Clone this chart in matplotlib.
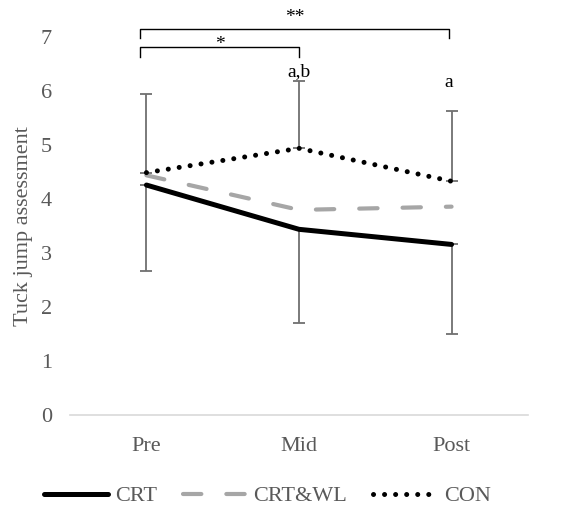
import matplotlib
matplotlib.use("Agg")
import matplotlib.pyplot as plt

# Tuck jump assessment scores per group and time point
timepoints = ["Pre", "Mid", "Post"]
crt = [4.26, 3.44, 3.16]
crt_wl = [4.44, 3.80, 3.86]
con = [4.49, 4.94, 4.33]

# one-sided SD bars: lower on CRT, upper on CON
crt_sd = [1.59, 1.73, 1.66]
con_sd = [1.45, 1.25, 1.30]

plt.rcParams["font.family"] = ["Liberation Serif", "DejaVu Serif"]
grey_txt = "#595959"

fig = plt.figure(figsize=(5.75, 5.15), dpi=100)
ax = fig.add_axes([0.122, 0.194, 0.796, 0.734])

x = list(range(len(timepoints)))

ax.errorbar(x, crt, yerr=[crt_sd, [0, 0, 0]], fmt="none", ecolor="#707070",
            elinewidth=1.3, capsize=4.5, capthick=1.3, zorder=1)
ax.errorbar(x, con, yerr=[[0, 0, 0], con_sd], fmt="none", ecolor="#707070",
            elinewidth=1.3, capsize=4.5, capthick=1.3, zorder=1)

ax.plot(x, crt, color="black", lw=3.6, solid_capstyle="round",
        solid_joinstyle="round", label="CRT", zorder=3)
ax.plot(x, crt_wl, color="#a6a6a6", lw=3.0, linestyle=(0, (4.4, 6.0)),
        dash_capstyle="round", label="CRT&WL", zorder=3)
ax.plot(x, con, color="black", lw=3.6, linestyle=(0, (0.01, 2.2)),
        dash_capstyle="round", label="CON", zorder=3)

ax.set_xlim(-0.5, 2.5)
ax.set_ylim(0, 7)
ax.set_xticks(x)
ax.set_xticklabels(timepoints)
ax.set_yticks(range(0, 8))
ax.tick_params(axis="both", length=0, labelsize=16, colors=grey_txt)
ax.tick_params(axis="x", pad=16)
ax.tick_params(axis="y", pad=13)
ax.set_ylabel("Tuck jump assessment", fontsize=16, color=grey_txt, labelpad=6)

for side in ["top", "right", "left"]:
    ax.spines[side].set_visible(False)
ax.spines["bottom"].set_color("#d9d9d9")
ax.spines["bottom"].set_linewidth(1.2)

# significance brackets
def bracket(x0, x1, y, drop, text, ty):
    ax.plot([x0, x0, x1, x1], [y - drop, y, y, y - drop], color="black",
            lw=1.0, clip_on=False)
    ax.text((x0 + x1) / 2, ty, text, ha="center", va="center", fontsize=14,
            clip_on=False)

bracket(-0.04, 1.98, 7.15, 0.17, "**", 7.36)
bracket(-0.04, 1.0, 6.81, 0.18, "*", 6.87)

ax.text(1, 6.36, "a,b", ha="center", va="center", fontsize=14)
ax.text(1.98, 6.16, "a", ha="center", va="center", fontsize=14)

leg = fig.legend(loc="lower center", bbox_to_anchor=(0.465, -0.022), ncol=3,
                 frameon=False, fontsize=16, handlelength=2.9,
                 handletextpad=0.3, columnspacing=1.15)
for t in leg.get_texts():
    t.set_color(grey_txt)

fig.savefig("out.png", dpi=100)
